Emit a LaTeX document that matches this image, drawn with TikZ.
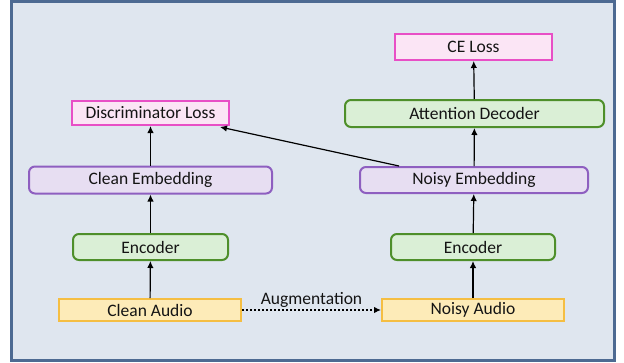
\documentclass[tikz,border=0pt]{standalone}
\usepackage{fontspec}
\setmainfont{Carlito}
\usetikzlibrary{arrows.meta}
\definecolor{bgfill}{HTML}{DFE6EF}
\definecolor{frame}{HTML}{4D6A92}
\definecolor{pinkb}{HTML}{E84FC6}
\definecolor{pinkf}{HTML}{FBE5F5}
\definecolor{greenb}{HTML}{4E8F2A}
\definecolor{greenf}{HTML}{DAEFD6}
\definecolor{purpb}{HTML}{8E5FC0}
\definecolor{purpf}{HTML}{E7DEF2}
\definecolor{yelb}{HTML}{F5BE42}
\definecolor{yelf}{HTML}{FDEBB8}
\definecolor{txt}{HTML}{141414}
\tikzset{
  base/.style={line width=2pt, inner sep=0pt, text=txt, font=\fontsize{17.5}{20}\selectfont},
  lossbox/.style={base, draw=pinkb, fill=pinkf},
  greenbox/.style={base, draw=greenb, fill=greenf, rounded corners=6pt},
  purpbox/.style={base, draw=purpb, fill=purpf, rounded corners=6pt},
  audiobox/.style={base, draw=yelb, fill=yelf},
  arr/.style={line width=1.2pt, -{Latex[length=7pt,width=6.5pt]}},
}
\begin{document}
\begin{tikzpicture}[x=1pt,y=-1pt]
\useasboundingbox (0,0) rectangle (624,362);
\draw[line width=3pt, draw=frame, fill=bgfill] (11,1.5) rectangle (614.5,360.5);

\node[lossbox, minimum width=157pt, minimum height=24pt] (dloss) at (150.5,113) {Discriminator Loss};
\node[lossbox, minimum width=157pt, minimum height=26pt] (celoss) at (473.5,47) {CE Loss};
\node[greenbox, minimum width=259pt, minimum height=27pt] (attn) at (474.5,113.5) {Attention Decoder};
\node[purpbox, minimum width=228pt, minimum height=26pt] (nemb) at (474,180) {Noisy Embedding};
\node[purpbox, minimum width=243pt, minimum height=27pt] (cemb) at (150.5,180) {Clean Embedding};
\node[greenbox, minimum width=155pt, minimum height=26pt] (enc1) at (150.5,247) {Encoder};
\node[greenbox, minimum width=164pt, minimum height=26pt] (enc2) at (473,247) {Encoder};
\node[audiobox, minimum width=182pt, minimum height=22pt] (caudio) at (150,310) {Clean Audio};
\node[audiobox, minimum width=182pt, minimum height=22pt] (naudio) at (473,310) {Noisy Audio};

\draw[arr] (caudio) -- (enc1);
\draw[arr] (enc1) -- (cemb);
\draw[arr] (cemb) -- (dloss);
\draw[arr] (naudio) -- (enc2);
\draw[arr] (enc2) -- (nemb);
\draw[arr] (nemb) -- (attn);
\draw[arr] (attn) -- (celoss);
\draw[arr] ([xshift=40pt]nemb.north west) -- ([xshift=-10pt,yshift=-1pt]dloss.south east);
\draw[line width=1.2pt, dash pattern=on 2pt off 2pt, -{Latex[length=7pt,width=6.5pt]}] (caudio.east) -- node[above=1pt, text=txt, font=\fontsize{17.5}{20}\selectfont, inner sep=1pt] (auglbl) {Augmentation} (naudio.west);
\end{tikzpicture}
\end{document}
